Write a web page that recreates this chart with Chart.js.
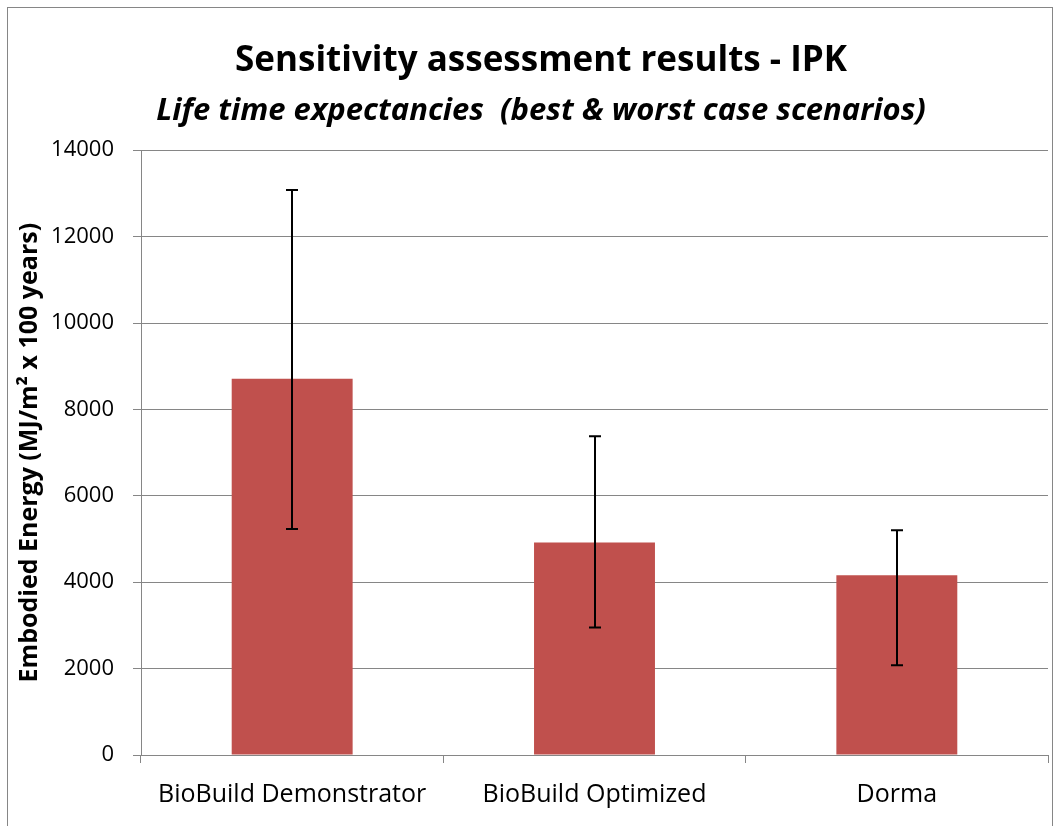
<!DOCTYPE html>
<html>
<head>
<meta charset="utf-8">
<script src="https://cdn.jsdelivr.net/npm/chart.js@4.4.0/dist/chart.umd.min.js"></script>
<style>
  html, body { margin: 0; padding: 0; background: #fff; }
  #wrap { width: 1055px; height: 826px; position: relative; }
</style>
</head>
<body>
<div id="wrap"><canvas id="c" width="1055" height="826"></canvas></div>
<script>
const categories = ["BioBuild Demonstrator", "BioBuild Optimized", "Dorma"];
const values = [8710, 4920, 4160];
const errHigh = [13080, 7380, 5200];
const errLow = [5230, 2950, 2080];
const yTicks = [0, 2000, 4000, 6000, 8000, 10000, 12000, 14000];

const FONT = "'Open Sans', Lato, sans-serif";

const framePlugin = {
  id: 'frame',
  beforeDraw(chart) {
    const ctx = chart.ctx;
    ctx.save();
    ctx.fillStyle = '#fff';
    ctx.fillRect(0, 0, chart.width, chart.height);
    ctx.strokeStyle = '#868686';
    ctx.lineWidth = 1;
    ctx.strokeRect(7.5, 7.5, chart.width - 10, chart.height + 10);
    ctx.restore();
  }
};

const errorBarPlugin = {
  id: 'errorBars',
  afterDatasetsDraw(chart) {
    const ctx = chart.ctx;
    const x = chart.scales.x, y = chart.scales.y;
    ctx.save();
    ctx.strokeStyle = '#000';
    ctx.lineWidth = 2;
    categories.forEach((c, i) => {
      const px = Math.round(x.getPixelForValue(i));
      const top = y.getPixelForValue(errHigh[i]);
      const bot = y.getPixelForValue(errLow[i]);
      ctx.beginPath();
      ctx.moveTo(px, top); ctx.lineTo(px, bot);
      ctx.moveTo(px - 6, top); ctx.lineTo(px + 6, top);
      ctx.moveTo(px - 6, bot); ctx.lineTo(px + 6, bot);
      ctx.stroke();
    });
    ctx.restore();
  }
};

new Chart(document.getElementById('c'), {
  type: 'bar',
  data: {
    labels: categories,
    datasets: [{
      data: values,
      backgroundColor: '#C0504D',
      borderWidth: 0,
      categoryPercentage: 1.0,
      barPercentage: 0.4
    }]
  },
  plugins: [framePlugin, errorBarPlugin],
  options: {
    responsive: false,
    animation: false,
    devicePixelRatio: 1,
    layout: { padding: { left: 34, right: 7, top: 8, bottom: 0 } },
    plugins: {
      legend: { display: false },
      tooltip: { enabled: false },
      title: {
        display: true,
        text: 'Sensitivity assessment results - IPK',
        color: '#000',
        font: { family: FONT, size: 35, weight: 'bold', lineHeight: 1.2 },
        padding: { top: 32, bottom: 6 }
      },
      subtitle: {
        display: true,
        text: 'Life time expectancies  (best & worst case scenarios)',
        color: '#000',
        font: { family: FONT, size: 31, style: 'italic', weight: 'bold', lineHeight: 1.2 },
        padding: { top: 5, bottom: 20 }
      }
    },
    scales: {
      x: {
        offset: true,
        grid: {
          offset: true,
          drawOnChartArea: false,
          drawTicks: true,
          tickLength: 8,
          color: '#868686',
          lineWidth: 1
        },
        border: { display: true, color: '#868686', width: 1 },
        ticks: {
          color: '#000',
          font: { family: FONT, size: 25 },
          padding: 17,
          maxRotation: 0
        },
        afterFit(scale) { scale.height = 71; }
      },
      y: {
        min: 0,
        max: 14000,
        afterBuildTicks(scale) { scale.ticks = yTicks.map(v => ({ value: v })); },
        grid: {
          color: '#868686',
          lineWidth: 1,
          drawTicks: true,
          tickLength: 8
        },
        border: { display: true, color: '#868686', width: 1 },
        ticks: {
          color: '#000',
          font: { family: FONT, size: 22 },
          padding: 19,
          callback: (v) => String(v)
        },
        title: {
          display: true,
          text: 'Embodied Energy (MJ/m² x 100 years)',
          color: '#000',
          font: { family: FONT, size: 25, weight: 'bold' },
          padding: { top: -19, bottom: 0 }
        },
        afterFit(scale) { scale.width = 107; }
      }
    }
  }
});
</script>
</body>
</html>
